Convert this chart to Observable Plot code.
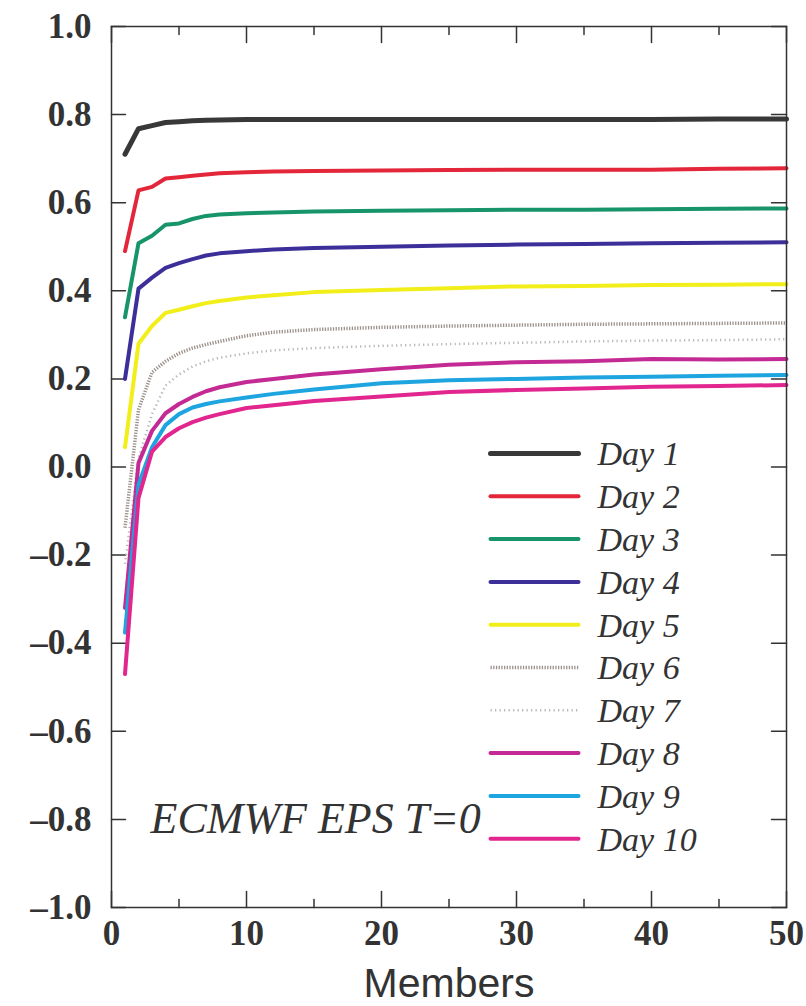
<!DOCTYPE html>
<html><head><meta charset="utf-8">
<script src="https://cdn.jsdelivr.net/npm/d3@7"></script>
<script src="https://cdn.jsdelivr.net/npm/@observablehq/plot@0.6"></script>
<style>
body{margin:0;background:#fff;}
#wrap{width:806px;height:1006px;}
</style></head><body><div id="wrap"></div>
<script>
const members = [1,2,3,4,5,6,7,8,10,12,15,20,25,30,35,40,45,50];
const day1  = [0.71,0.768,0.775,0.782,0.784,0.786,0.787,0.788,0.789,0.789,0.789,0.789,0.789,0.789,0.789,0.789,0.79,0.79];
const day2  = [0.49,0.628,0.636,0.655,0.658,0.661,0.664,0.667,0.669,0.671,0.672,0.673,0.674,0.675,0.675,0.675,0.677,0.678];
const day3  = [0.34,0.508,0.525,0.55,0.553,0.563,0.57,0.573,0.576,0.578,0.58,0.582,0.583,0.584,0.584,0.585,0.586,0.587];
const day4  = [0.2,0.405,0.43,0.452,0.463,0.472,0.48,0.485,0.49,0.494,0.497,0.5,0.503,0.505,0.506,0.508,0.509,0.51];
const day5  = [0.045,0.28,0.32,0.35,0.357,0.365,0.372,0.377,0.385,0.39,0.397,0.402,0.406,0.41,0.411,0.413,0.414,0.415];
const day6  = [-0.138,0.13,0.215,0.24,0.258,0.27,0.278,0.285,0.298,0.306,0.312,0.317,0.32,0.322,0.324,0.325,0.326,0.327];
const day7  = [-0.22,0.02,0.12,0.185,0.21,0.228,0.24,0.248,0.258,0.265,0.27,0.275,0.279,0.282,0.285,0.287,0.288,0.29];
const day8  = [-0.32,0.009,0.082,0.122,0.143,0.159,0.172,0.181,0.193,0.2,0.21,0.222,0.232,0.238,0.24,0.245,0.244,0.245];
const day9  = [-0.376,-0.04,0.045,0.095,0.12,0.135,0.143,0.149,0.158,0.166,0.176,0.19,0.197,0.2,0.203,0.205,0.207,0.209];
const day10 = [-0.47,-0.07,0.035,0.068,0.088,0.102,0.112,0.12,0.134,0.14,0.15,0.16,0.17,0.175,0.178,0.182,0.184,0.186];

const dayLabels = ["Day 1","Day 2","Day 3","Day 4","Day 5","Day 6","Day 7","Day 8","Day 9","Day 10"];
const series = [day1,day2,day3,day4,day5,day6,day7,day8,day9,day10];
const yTicks = [-1,-0.8,-0.6,-0.4,-0.2,0,0.2,0.4,0.6,0.8,1];
const xMajor = [0,10,20,30,40,50];
const xMinor = [5,15,25,35,45];
const annotation = "ECMWF EPS T=0";
const xLabel = "Members";

const styles = [
  {stroke:"#383838", strokeWidth:5, strokeLinecap:"round"},
  {stroke:"#e3263a", strokeWidth:4, strokeLinecap:"round"},
  {stroke:"#17946a", strokeWidth:4, strokeLinecap:"round"},
  {stroke:"#3d2f99", strokeWidth:4, strokeLinecap:"round"},
  {stroke:"#f2ee1a", strokeWidth:4, strokeLinecap:"round"},
  {stroke:"#9c918b", strokeWidth:3.5, strokeDasharray:"1.3,1.4", strokeLinecap:"butt"},
  {stroke:"#bdb8b8", strokeWidth:2.5, strokeDasharray:"1.3,3.2", strokeLinecap:"butt"},
  {stroke:"#c42a94", strokeWidth:4, strokeLinecap:"round"},
  {stroke:"#1ea5df", strokeWidth:4, strokeLinecap:"round"},
  {stroke:"#e1268f", strokeWidth:4, strokeLinecap:"round"}
];

const table = series.map((vals, i) => members.map((m, j) => ({day: dayLabels[i], member: m, value: vals[j]})));

const tickLine = {draw(ctx, l) { ctx.moveTo(0, 0); ctx.lineTo(0, -l); }};
const fmt = d => (d < 0 ? "\u2013" : "") + Math.abs(d).toFixed(1);
const serif = "'Liberation Serif','Times New Roman',serif";
const axisColor = "#333";

const marks = [];
// inward ticks
marks.push(Plot.vector(yTicks, {y: d => d, frameAnchor: "left", length: 14, rotate: 90, anchor: "start", shape: tickLine, stroke: axisColor, strokeWidth: 1.5}));
marks.push(Plot.vector(yTicks, {y: d => d, frameAnchor: "right", length: 15, rotate: -90, anchor: "start", shape: tickLine, stroke: axisColor, strokeWidth: 1.5}));
marks.push(Plot.vector(xMajor, {x: d => d, frameAnchor: "bottom", length: 16, rotate: 0, anchor: "start", shape: tickLine, stroke: axisColor, strokeWidth: 1.5}));
marks.push(Plot.vector(xMinor, {x: d => d, frameAnchor: "bottom", length: 8, rotate: 0, anchor: "start", shape: tickLine, stroke: axisColor, strokeWidth: 1.5}));
marks.push(Plot.vector(xMajor, {x: d => d, frameAnchor: "top", length: 16, rotate: 180, anchor: "start", shape: tickLine, stroke: axisColor, strokeWidth: 1.5}));
marks.push(Plot.vector(xMinor, {x: d => d, frameAnchor: "top", length: 8, rotate: 180, anchor: "start", shape: tickLine, stroke: axisColor, strokeWidth: 1.5}));
// axis labels
marks.push(Plot.axisY({ticks: yTicks, tickSize: 0, tickPadding: 20, tickFormat: fmt, fontSize: 35, fontWeight: "bold", fontFamily: serif, fill: axisColor, label: null}));
marks.push(Plot.axisX({ticks: xMajor, tickSize: 0, tickPadding: 13, tickFormat: d => String(d), fontSize: 35, fontWeight: "bold", fontFamily: serif, fill: axisColor, label: null}));
marks.push(Plot.text([xLabel], {frameAnchor: "bottom", dy: 76, lineAnchor: "middle", fontSize: 41, fontFamily: "'Liberation Sans',Arial,sans-serif", fill: "#333"}));
// lines
table.forEach((rows, i) => {
  marks.push(Plot.line(rows, {x: "member", y: "value", strokeLinejoin: "round", ...styles[i]}));
});
// frame
marks.push(Plot.frame({stroke: axisColor, strokeWidth: 1.5}));
// annotation
marks.push(Plot.text([annotation], {frameAnchor: "bottom-left", dx: 39, dy: -89, lineAnchor: "middle", textAnchor: "start", fontSize: 44, fontStyle: "italic", fontFamily: serif, fill: "#333"}));
// legend
dayLabels.forEach((lab, i) => {
  const dy = 453 + i * 42.8 - 26;
  marks.push(Plot.vector([lab], {frameAnchor: "top-left", dx: 379, dy, length: 88, rotate: 90, anchor: "start", shape: tickLine, ...styles[i]}));
  marks.push(Plot.text([lab], {frameAnchor: "top-left", dx: 486, dy: dy + 1, lineAnchor: "middle", textAnchor: "start", fontSize: 34, fontStyle: "italic", fontFamily: serif, fill: "#333"}));
});

const chart = Plot.plot({
  width: 806, height: 1006,
  marginLeft: 111, marginRight: 20, marginTop: 26, marginBottom: 99,
  x: {domain: [0, 50]},
  y: {domain: [-1, 1]},
  style: {background: "#fff", fontFamily: serif},
  marks
});
document.getElementById("wrap").appendChild(chart);
</script>
</body></html>
